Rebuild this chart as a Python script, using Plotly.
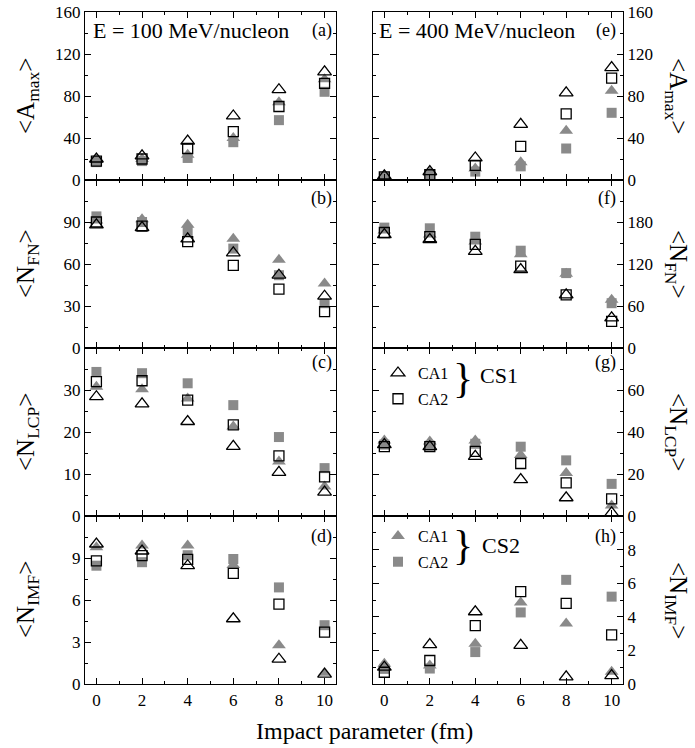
import plotly.graph_objects as go

FONT = "Liberation Serif"

# Impact parameter (fm)
b_vals = [0, 2, 4, 6, 8, 10]
x_tick_vals = [0, 2, 4, 6, 8, 10]

# ---- <A_max>, E = 100 MeV/nucleon (a)
amax100_cs1_ca1 = [20, 23, 37, 61, 86, 103]
amax100_cs1_ca2 = [18, 20, 30, 46, 70, 92]
amax100_cs2_ca1 = [19, 20, 24, 40, 74, 96]
amax100_cs2_ca2 = [17, 18, 21, 36, 57, 84]

# ---- <N_FN>, 100 MeV/nucleon (b)
nfn100_cs1_ca1 = [88, 86, 78, 68, 52, 37]
nfn100_cs1_ca2 = [90, 87, 76, 59, 42, 26]
nfn100_cs2_ca1 = [91, 92, 88, 78, 63, 46]
nfn100_cs2_ca2 = [94, 90, 83, 71, 52, 32]

# ---- <N_LCP>, 100 MeV/nucleon (c)
nlcp100_cs1_ca1 = [28.4, 26.7, 22.5, 16.6, 10.4, 5.7]
nlcp100_cs1_ca2 = [32.0, 32.2, 27.6, 21.7, 14.3, 9.3]
nlcp100_cs2_ca1 = [30.8, 30.2, 28.0, 21.3, 13.0, 7.0]
nlcp100_cs2_ca2 = [34.3, 34.0, 31.6, 26.4, 18.8, 11.4]

# ---- <N_IMF>, 100 MeV/nucleon (d)
nimf100_cs1_ca1 = [10.0, 9.5, 8.45, 4.66, 1.77, 0.7]
nimf100_cs1_ca2 = [8.8, 9.17, 8.9, 7.9, 5.7, 3.7]
nimf100_cs2_ca1 = [9.76, 9.9, 9.9, 8.5, 2.77, 0.8]
nimf100_cs2_ca2 = [8.45, 8.7, 9.2, 8.93, 6.9, 4.2]

# ---- <A_max>, E = 400 MeV/nucleon (e)
amax400_cs1_ca1 = [4, 8, 21, 53, 83, 107]
amax400_cs1_ca2 = [3, 5, 14, 32, 63, 97]
amax400_cs2_ca1 = [4, 7, 11, 17, 47, 85]
amax400_cs2_ca2 = [3, 5, 8, 13, 30, 64]

# ---- <N_FN>, 400 MeV/nucleon (f)
nfn400_cs1_ca1 = [162, 155, 138, 112, 76, 43]
nfn400_cs1_ca2 = [165, 159, 148, 117, 76, 38]
nfn400_cs2_ca1 = [168, 162, 152, 134, 106, 69]
nfn400_cs2_ca2 = [172, 171, 159, 139, 107, 64]

# ---- <N_LCP>, 400 MeV/nucleon (g)
nlcp400_cs1_ca1 = [34, 33, 28.4, 17.3, 8.7, 1.5]
nlcp400_cs1_ca2 = [33, 33, 30.8, 25, 15.8, 8.2]
nlcp400_cs2_ca1 = [36, 35.5, 36, 29, 20.5, 5]
nlcp400_cs2_ca2 = [34, 33.5, 34.4, 33, 26.5, 15.3]

# ---- <N_IMF>, 400 MeV/nucleon (h)
nimf400_cs1_ca1 = [1.0, 2.34, 4.3, 2.3, 0.43, 0.5]
nimf400_cs1_ca2 = [0.7, 1.4, 3.48, 5.5, 4.8, 2.93]
nimf400_cs2_ca1 = [1.2, 1.1, 2.4, 4.85, 3.6, 0.73]
nimf400_cs2_ca2 = [0.9, 0.92, 1.9, 4.26, 6.2, 5.2]

# y-axis ranges / ticks per panel
y_ranges = {"a": [0, 160], "b": [0, 120], "c": [0, 40], "d": [0, 12],
            "e": [0, 160], "f": [0, 240], "g": [0, 80], "h": [0, 10]}
y_ticks = {"a": [0, 40, 80, 120, 160], "b": [0, 30, 60, 90], "c": [0, 10, 20, 30],
           "d": [0, 3, 6, 9], "e": [0, 40, 80, 120, 160], "f": [0, 60, 120, 180],
           "g": [0, 20, 40, 60], "h": [0, 2, 4, 6, 8]}
y_minor = {"a": 20, "b": 15, "c": 5, "d": 1.5, "e": 20, "f": 30, "g": 10, "h": 1}

panel_data = {
    "a": (amax100_cs2_ca1, amax100_cs2_ca2, amax100_cs1_ca1, amax100_cs1_ca2),
    "b": (nfn100_cs2_ca1, nfn100_cs2_ca2, nfn100_cs1_ca1, nfn100_cs1_ca2),
    "c": (nlcp100_cs2_ca1, nlcp100_cs2_ca2, nlcp100_cs1_ca1, nlcp100_cs1_ca2),
    "d": (nimf100_cs2_ca1, nimf100_cs2_ca2, nimf100_cs1_ca1, nimf100_cs1_ca2),
    "e": (amax400_cs2_ca1, amax400_cs2_ca2, amax400_cs1_ca1, amax400_cs1_ca2),
    "f": (nfn400_cs2_ca1, nfn400_cs2_ca2, nfn400_cs1_ca1, nfn400_cs1_ca2),
    "g": (nlcp400_cs2_ca1, nlcp400_cs2_ca2, nlcp400_cs1_ca1, nlcp400_cs1_ca2),
    "h": (nimf400_cs2_ca1, nimf400_cs2_ca2, nimf400_cs1_ca1, nimf400_cs1_ca2),
}
y_titles = {
    "a": "&lt;A<sub>max</sub>&gt;", "b": "&lt;N<sub>FN</sub>&gt;",
    "c": "&lt;N<sub>LCP</sub>&gt;", "d": "&lt;N<sub>IMF</sub>&gt;",
    "e": "&lt;A<sub>max</sub>&gt;", "f": "&lt;N<sub>FN</sub>&gt;",
    "g": "&lt;N<sub>LCP</sub>&gt;", "h": "&lt;N<sub>IMF</sub>&gt;",
}

GRAY = "#8a8a8a"
styles = [
    dict(name="CA1", marker=dict(symbol="triangle-up", size=12, color=GRAY, line=dict(width=0))),
    dict(name="CA2", marker=dict(symbol="square", size=10, color=GRAY, line=dict(width=0))),
    dict(name="CA1", marker=dict(symbol="triangle-up-open", size=12, color="black", line=dict(width=1.3))),
    dict(name="CA2", marker=dict(symbol="square-open", size=10, color="black", line=dict(width=1.3))),
]

col_dom = [[0.0, 0.4665], [0.5353, 1.0]]
row_dom = [[0.75, 1.0], [0.5, 0.75], [0.25, 0.5], [0.0, 0.25]]
panels = ["a", "b", "c", "d", "e", "f", "g", "h"]

fig = go.Figure()
layout = {}
axis_common = dict(showline=True, linecolor="black", linewidth=1.3, mirror="ticks",
                   ticks="inside", ticklen=6, tickwidth=1.2, tickcolor="black",
                   showgrid=False, zeroline=False, automargin=False,
                   tickfont=dict(family=FONT, size=17, color="black"))

for i, p in enumerate(panels):
    col = i // 4
    row = i % 4
    n = i + 1
    xa = "x" if n == 1 else f"x{n}"
    ya = "y" if n == 1 else f"y{n}"
    for k, ys in enumerate(panel_data[p]):
        st = styles[k]
        show = False
        leg = "legend"
        if p == "g" and k >= 2:
            show = True
            leg = "legend"
        if p == "h" and k < 2:
            show = True
            leg = "legend2"
        fig.add_trace(go.Scatter(x=b_vals, y=ys, mode="markers", name=st["name"],
                                 marker=st["marker"], xaxis=xa, yaxis=ya,
                                 showlegend=show, legend=leg,
                                 legendgroup=f"{p}{k}"))
    layout[f"xaxis{'' if n == 1 else n}"] = dict(
        axis_common, domain=col_dom[col], anchor=ya, range=[-0.5, 10.5],
        tickmode="array", tickvals=x_tick_vals, showticklabels=(row == 3),
        minor=dict(tickmode="linear", tick0=0, dtick=1, ticks="inside", ticklen=3,
                   tickwidth=1, tickcolor="black", showgrid=False))
    layout[f"yaxis{'' if n == 1 else n}"] = dict(
        axis_common, domain=row_dom[row], anchor=xa, range=y_ranges[p],
        side="left" if col == 0 else "right", ticklabeloverflow="allow",
        tickmode="array", tickvals=y_ticks[p],
        minor=dict(tickmode="linear", tick0=0, dtick=y_minor[p], ticks="inside", ticklen=3,
                   tickwidth=1, tickcolor="black", showgrid=False))

annotations = []
label_y = {0: 0.9732, 1: 0.7232, 2: 0.4777, 3: 0.2188}
for i, p in enumerate(panels):
    col = i // 4
    row = i % 4
    annotations.append(dict(text=f"({p})", xref="paper", yref="paper",
                            x=0.463 if col == 0 else 0.991, y=label_y[row],
                            xanchor="right", yanchor="middle", showarrow=False,
                            font=dict(family=FONT, size=18, color="black")))
    yc = (row_dom[row][0] + row_dom[row][1]) / 2
    annotations.append(dict(text=y_titles[p], xref="paper", yref="paper",
                            x=-0.1078 if col == 0 else 1.1004, y=yc,
                            xanchor="center", yanchor="middle", showarrow=False,
                            textangle=-90 if col == 0 else 90,
                            font=dict(family=FONT, size=25, color="black")))

annotations += [
    dict(text="E = 100 MeV/nucleon", xref="paper", yref="paper", x=0.0112, y=0.9732,
         xanchor="left", yanchor="middle", showarrow=False,
         font=dict(family=FONT, size=22, color="black")),
    dict(text="E = 400 MeV/nucleon", xref="paper", yref="paper", x=0.5428, y=0.9732,
         xanchor="left", yanchor="middle", showarrow=False,
         font=dict(family=FONT, size=22, color="black")),
    dict(text="}", xref="paper", yref="paper", x=0.7026, y=0.4554,
         xanchor="center", yanchor="middle", showarrow=False,
         font=dict(family=FONT, size=42, color="black")),
    dict(text="CS1", xref="paper", yref="paper", x=0.7305, y=0.4598,
         xanchor="left", yanchor="middle", showarrow=False,
         font=dict(family=FONT, size=22, color="black")),
    dict(text="}", xref="paper", yref="paper", x=0.7026, y=0.2068,
         xanchor="center", yanchor="middle", showarrow=False,
         font=dict(family=FONT, size=42, color="black")),
    dict(text="CS2", xref="paper", yref="paper", x=0.734, y=0.2054,
         xanchor="left", yanchor="middle", showarrow=False,
         font=dict(family=FONT, size=22, color="black")),
    dict(text="Impact parameter (fm)", xref="paper", yref="paper", x=0.5186, y=-0.070,
         xanchor="center", yanchor="middle", showarrow=False,
         font=dict(family=FONT, size=24, color="black")),
]

legend_common = dict(xanchor="left", yanchor="top", bgcolor="rgba(0,0,0,0)",
                     borderwidth=0, font=dict(family=FONT, size=16, color="black"),
                     itemwidth=30, traceorder="grouped", tracegroupgap=2)

fig.update_layout(
    width=695, height=748,
    margin=dict(l=85, r=72, t=12, b=64, autoexpand=False),
    paper_bgcolor="white", plot_bgcolor="white",
    font=dict(family=FONT, color="black"),
    annotations=annotations,
    legend=dict(legend_common, x=0.5446, y=0.488),
    legend2=dict(legend_common, x=0.5446, y=0.2455),
    **layout,
)

# remove the default 8 px page margin so the figure fills the window exactly
fig.write_html("out.html",
               config={"displayModeBar": False},
               post_script="document.body.style.margin='0';document.body.style.overflow='hidden';")
